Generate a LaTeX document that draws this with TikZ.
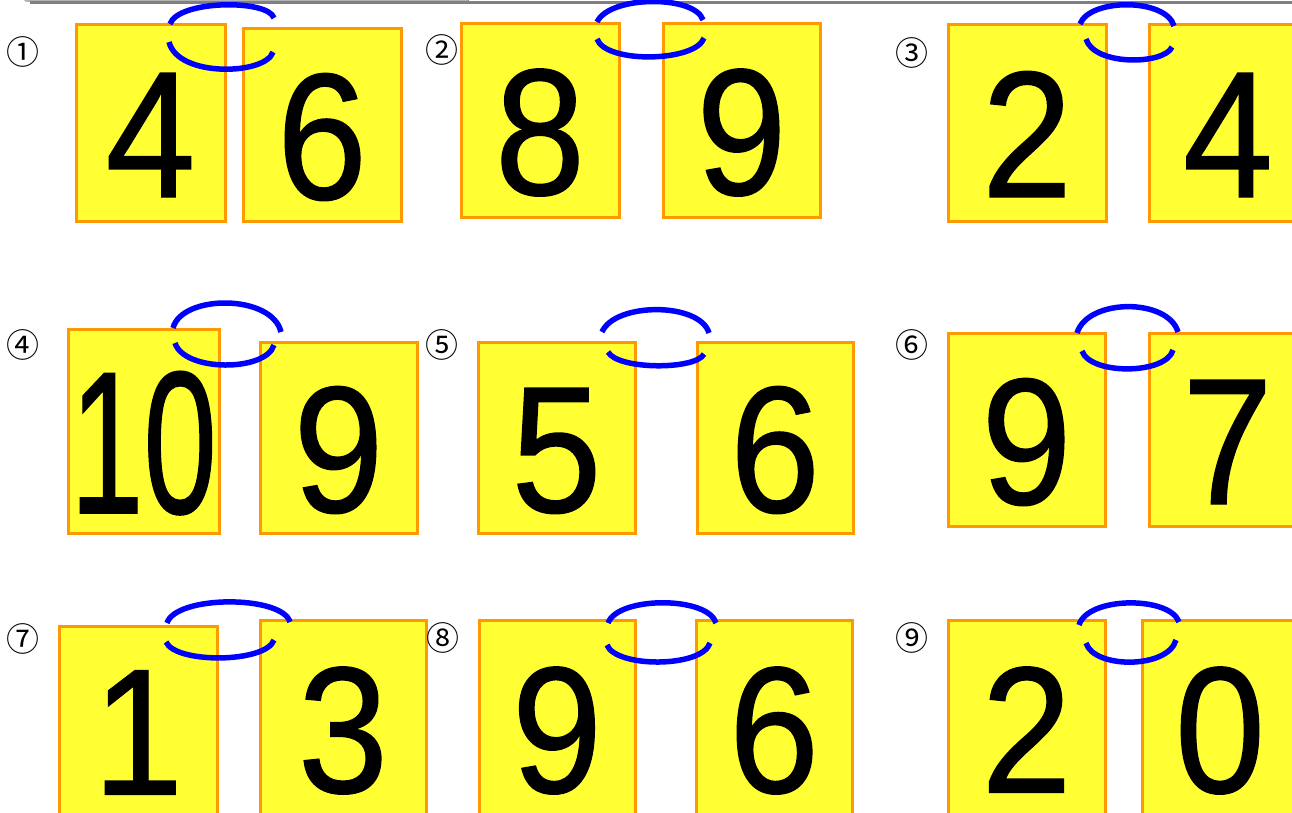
\documentclass[tikz,border=0pt]{standalone}
\usepackage{fontspec}
\usepackage{graphicx}
\setmainfont{Liberation Sans}
\newfontfamily\cardfont[FakeBold=0.8]{Liberation Sans}
\newfontfamily\circfont{Noto Sans CJK JP}
\definecolor{cardfill}{RGB}{255,255,51}
\definecolor{cardedge}{RGB}{255,153,0}
\definecolor{pen}{RGB}{0,0,255}
\newcommand{\narrow}[1]{\scalebox{0.9}[1]{#1}}

\begin{document}
\begin{tikzpicture}[x=1pt,y=-1pt,
  card/.style={draw=cardedge,fill=cardfill,line width=3pt,inner sep=0pt,
    text height=149pt,text depth=0pt,font=\cardfont\fontsize{180}{180}\selectfont},
  num/.style={font=\circfont\fontsize{33}{33}\selectfont,inner sep=0pt},
  penloop/.style={pen,line width=5.5pt}]
\useasboundingbox (0,0) rectangle (1292,812);
\clip (0,0) rectangle (1292,812);
% frame edge at the top
\draw[gray!60,line width=2pt] (24,-2) .. controls (25,1) .. (32,1) -- (468,1);
\draw[gray,line width=2.5pt] (30,2.5) -- (1292,2.5);
\draw[gray,line width=1pt] (468,-1) -- (468,4);

% row 1
\node[num] (n1) at (23,52) {①};
\node[card,minimum width=149pt,minimum height=197pt] (l1) at (150.5,122.5) {\narrow{4}};
\node[card,minimum width=158pt,minimum height=193pt] (r1) at (322,124.5) {\narrow{6}};
\node[num] (n2) at (442,50) {②};
\node[card,minimum width=158pt,minimum height=194pt] (l2) at (540,120) {\narrow{8}};
\node[card,minimum width=157pt,minimum height=194pt] (r2) at (741.5,120) {\narrow{9}};
\node[num] (n3) at (912,53) {③};
\node[card,minimum width=158pt,minimum height=197pt] (l3) at (1027,122.5) {\narrow{2}};
\node[card,minimum width=158pt,minimum height=197pt] (r3) at (1228,122.5) {\narrow{4}};

% row 2
\node[num] (n4) at (23,345) {④};
\node[card,minimum width=151pt,minimum height=204pt,text height=164pt,
  font=\cardfont\fontsize{203}{203}\selectfont] (l4) at (143.5,431) {\scalebox{0.65}[1]{10}};
\node[card,minimum width=157pt,minimum height=191pt] (r4) at (338.5,437.5) {\narrow{9}};
\node[num] (n5) at (442,345) {⑤};
\node[card,minimum width=157pt,minimum height=191pt] (l5) at (556.5,437.5) {\narrow{5}};
\node[card,minimum width=156pt,minimum height=191pt] (r5) at (775,437.5) {\narrow{6}};
\node[num] (n6) at (912,345) {⑥};
\node[card,minimum width=157pt,minimum height=193pt] (l6) at (1026.5,429.5) {\narrow{9}};
\node[card,minimum width=157pt,minimum height=193pt] (r6) at (1227.5,429.5) {\narrow{7}};

% row 3
\node[num] (n7) at (23,639) {⑦};
\node[card,minimum width=158pt,minimum height=188pt] (l7) at (138,720) {\narrow{1}};
\node[card,minimum width=166pt,minimum height=196pt] (r7) at (343,718) {\narrow{3}};
\node[num] (n8) at (443,638) {⑧};
\node[card,minimum width=156pt,minimum height=196pt] (l8) at (557,718) {\narrow{9}};
\node[card,minimum width=156pt,minimum height=196pt] (r8) at (774,718) {\narrow{6}};
\node[num] (n9) at (912,638) {⑨};
\node[card,minimum width=157pt,minimum height=196pt] (l9) at (1026.5,718) {\narrow{2}};
\node[card,minimum width=156pt,minimum height=196pt] (r9) at (1220,718) {\narrow{0}};

% the blue rings
\draw[penloop] (170,24) .. controls (178,0) and (268,-1) .. (274,18)
  (169,42) .. controls (178,78) and (266,75) .. (273,52);
\draw[penloop] (597,22) .. controls (610,-5) and (695,-5) .. (703,20)
  (597,39) .. controls (606,64) and (696,62) .. (704,38);
\draw[penloop] (1080,24) .. controls (1090,-2) and (1166,-2) .. (1174,26)
  (1086,39) .. controls (1094,66) and (1164,65) .. (1172,47);
\draw[penloop] (173,328) .. controls (182,294) and (272,294) .. (281,332)
  (175,343) .. controls (184,372) and (266,372) .. (274,345);
\draw[penloop] (602,332) .. controls (615,302) and (700,302) .. (709,333)
  (608,352) .. controls (618,370) and (696,370) .. (704,354);
\draw[penloop] (1077,333) .. controls (1088,298) and (1168,298) .. (1178,332)
  (1082,351) .. controls (1090,375) and (1166,375) .. (1173,350);
\draw[penloop] (167,623) .. controls (176,595) and (282,595) .. (290,622)
  (166,642) .. controls (176,664) and (266,663) .. (274,640);
\draw[penloop] (608,623) .. controls (618,596) and (708,596) .. (716,623)
  (607,645) .. controls (616,668) and (702,668) .. (710,643);
\draw[penloop] (1079,625) .. controls (1088,596) and (1170,596) .. (1179,622)
  (1086,643) .. controls (1094,669) and (1168,669) .. (1176,640);
\end{tikzpicture}
\end{document}
